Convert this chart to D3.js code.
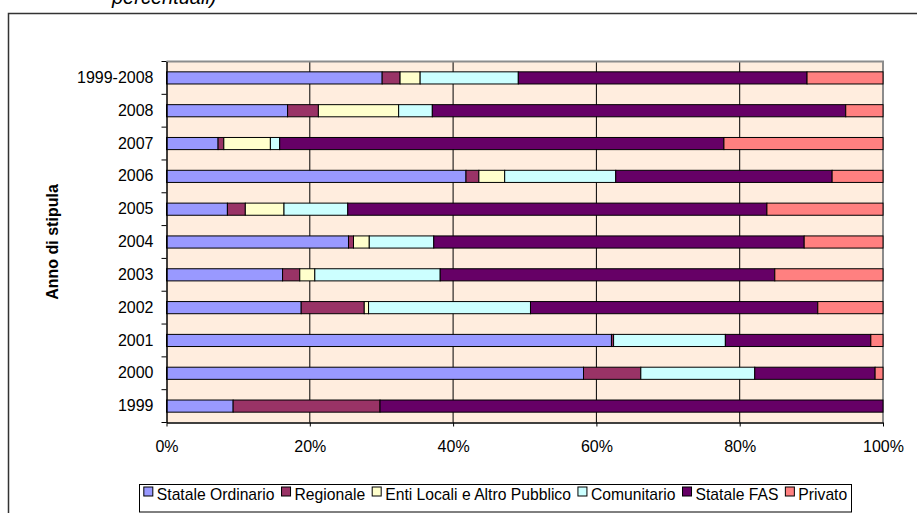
<!DOCTYPE html>
<html>
<head>
<meta charset="utf-8">
<script src="https://cdn.jsdelivr.net/npm/d3@7"></script>
<style>
  html, body { margin: 0; padding: 0; background: #fff; }
  svg { display: block; }
  text { font-family: Arial, "Liberation Sans", sans-serif; fill: #000; }
</style>
</head>
<body>
<svg id="chart" width="917" height="513"></svg>
<script>
// ---- data ----
const categories = ["1999-2008", "2008", "2007", "2006", "2005", "2004", "2003", "2002", "2001", "2000", "1999"];
const seriesNames = ["Statale Ordinario", "Regionale", "Enti Locali e Altro Pubblico", "Comunitario", "Statale FAS", "Privato"];
const seriesColors = ["#9999FF", "#993366", "#FFFFCC", "#CCFFFF", "#660066", "#FF8080"];
const statOrdinario = [30.1, 16.9, 7.2, 41.8, 8.5, 25.4, 16.2, 18.8, 62.1, 58.2, 9.3];
const regionale     = [2.5, 4.3, 0.8, 1.8, 2.5, 0.7, 2.4, 8.8, 0.3, 8.0, 20.5];
const entiLocali    = [2.8, 11.2, 6.5, 3.6, 5.4, 2.2, 2.1, 0.6, 0.0, 0.0, 0.0];
const comunitario   = [13.7, 4.7, 1.3, 15.5, 8.9, 9.0, 17.5, 22.6, 15.6, 15.9, 0.0];
const stataleFAS    = [40.3, 57.7, 62.0, 30.2, 58.5, 51.7, 46.7, 40.1, 20.3, 16.8, 70.2];
const privato       = [10.6, 5.2, 22.2, 7.1, 16.2, 11.0, 15.1, 9.1, 1.7, 1.1, 0.0];
const xTickValues = [0, 0.2, 0.4, 0.6, 0.8, 1.0];
const yTitle = "Anno di stipula";
const topText = "percentuali)";

const seriesValues = [statOrdinario, regionale, entiLocali, comunitario, stataleFAS, privato];
const table = categories.map((c, i) => {
  const row = { cat: c };
  seriesNames.forEach((s, j) => row[s] = seriesValues[j][i]);
  return row;
});

const svg = d3.select("#chart");

// outer chart border
svg.append("rect")
  .attr("x", 8.5).attr("y", 13.5).attr("width", 960).attr("height", 600)
  .attr("fill", "#fff").attr("stroke", "#333").attr("stroke-width", 1.5);

// title remnant, cut off at the top edge as in the reference
svg.append("text")
  .attr("x", 112).attr("y", 4)
  .attr("font-size", 20).attr("font-style", "italic")
  .text(topText);

const pLeft = 166.5, pRight = 883, pTop = 61.5, pBottom = 422.5;

const x = d3.scaleLinear().domain([0, 1]).range([pLeft, pRight]);
const y = d3.scaleBand().domain(categories).range([pTop, pBottom]).padding(0);
const barH = y.bandwidth() * 0.37;

// plot background
svg.append("rect")
  .attr("x", pLeft).attr("y", pTop).attr("width", pRight - pLeft).attr("height", pBottom - pTop)
  .attr("fill", "#FFEDDE");

// vertical gridlines
svg.append("g").selectAll("line")
  .data(xTickValues.filter(v => v > 0 && v < 1))
  .join("line")
  .attr("x1", d => x(d)).attr("x2", d => x(d))
  .attr("y1", pTop).attr("y2", pBottom)
  .attr("stroke", "#000").attr("stroke-width", 1);

// plot border (top / right gray)
svg.append("path")
  .attr("d", `M${pLeft},${pTop}H${pRight}V${pBottom}`)
  .attr("fill", "none").attr("stroke", "#8c8c8c").attr("stroke-width", 2);

// stacked bars
const stack = d3.stack().keys(seriesNames).offset(d3.stackOffsetExpand);
const layers = stack(table);

svg.append("g").selectAll("g")
  .data(layers)
  .join("g")
  .attr("fill", (d, i) => seriesColors[i])
  .selectAll("rect")
  .data(d => d.filter(p => p[1] - p[0] > 0))
  .join("rect")
  .attr("x", d => x(d[0]))
  .attr("width", d => x(d[1]) - x(d[0]))
  .attr("y", d => y(d.data.cat) + (y.bandwidth() - barH) / 2)
  .attr("height", barH)
  .attr("stroke", "#000").attr("stroke-width", 1);

// x axis
const xAxis = svg.append("g")
  .attr("transform", `translate(0,${pBottom})`)
  .call(d3.axisBottom(x).tickValues(xTickValues).tickFormat(d3.format(".0%")).tickSize(4).tickPadding(14).tickSizeOuter(0));
xAxis.select(".domain").attr("stroke", "#000").attr("stroke-width", 1.5);
xAxis.selectAll(".tick line").attr("stroke", "#000");
xAxis.selectAll(".tick text").attr("font-size", 16).attr("font-family", "Arial, 'Liberation Sans', sans-serif");

// y axis
const yAxis = svg.append("g")
  .attr("transform", `translate(${pLeft},0)`)
  .call(d3.axisLeft(y).tickSize(0).tickPadding(13).tickSizeOuter(0));
yAxis.select(".domain").attr("stroke", "#000").attr("stroke-width", 1.5);
yAxis.selectAll(".tick text").attr("font-size", 16).attr("font-family", "Arial, 'Liberation Sans', sans-serif");
// boundary ticks between categories
const bounds = categories.map(c => y(c)).concat([pBottom]);
yAxis.append("g").selectAll("line")
  .data(bounds)
  .join("line")
  .attr("x1", -5).attr("x2", 0)
  .attr("y1", d => d).attr("y2", d => d)
  .attr("stroke", "#000").attr("stroke-width", 1);

// y title
svg.append("text")
  .attr("transform", `translate(58,${(pTop + pBottom) / 2}) rotate(-90)`)
  .attr("text-anchor", "middle")
  .attr("font-size", 16).attr("font-weight", "bold")
  .text(yTitle);

// legend
const legend = svg.append("g");
const fs = 15.7, sq = 9, gapSqText = 4, gapItem = 7;
let cx = 0;
seriesNames.forEach((name, i) => {
  const g = legend.append("g");
  g.append("rect").attr("x", 0).attr("y", -sq + 1).attr("width", sq).attr("height", sq)
    .attr("fill", seriesColors[i]).attr("stroke", "#000").attr("stroke-width", 1);
  const t = g.append("text").attr("x", sq + gapSqText).attr("y", 5)
    .attr("font-size", fs).text(name);
  const w = sq + gapSqText + t.node().getComputedTextLength();
  g.attr("transform", `translate(${cx},0)`);
  cx += w + gapItem;
});
const totalW = cx - gapItem;
const boxL = 139.5, boxR = 851.5, boxT = 484.5, boxB = 512;
const offX = boxL + ((boxR - boxL) - totalW) / 2;
legend.insert("rect", ":first-child")
  .attr("x", boxL - offX).attr("y", boxT - 495)
  .attr("width", boxR - boxL).attr("height", boxB - boxT)
  .attr("fill", "#fff").attr("stroke", "#000").attr("stroke-width", 1);
legend.attr("transform", `translate(${offX},495)`);
</script>
</body>
</html>
